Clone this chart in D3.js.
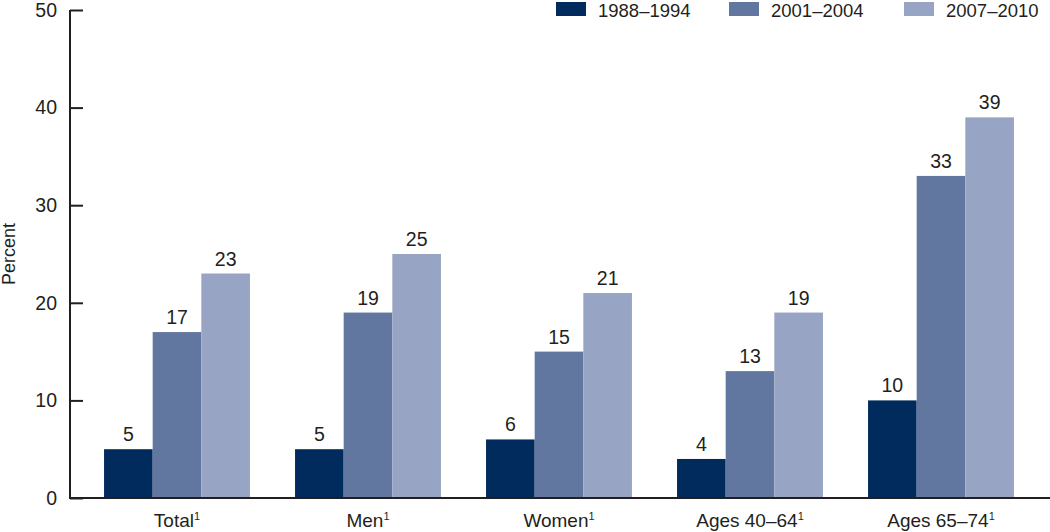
<!DOCTYPE html>
<html>
<head>
<meta charset="utf-8">
<script src="https://cdn.jsdelivr.net/npm/d3@7"></script>
<style>
  body { margin: 0; background: #fff; }
  svg text { font-family: "Liberation Sans", Arial, sans-serif; fill: #231f20; }
</style>
</head>
<body>
<svg id="chart" width="1050" height="532"></svg>
<script>
// chart data
const categories = ["Total", "Men", "Women", "Ages 40\u201364", "Ages 65\u201374"];
const periods = ["1988\u20131994", "2001\u20132004", "2007\u20132010"];
const values1988 = [5, 5, 6, 4, 10];
const values2001 = [17, 19, 15, 13, 33];
const values2007 = [23, 25, 21, 19, 39];
const yTicks = [0, 10, 20, 30, 40, 50];

const colors = ["#002b5c", "#62779f", "#97a4c3"];
const series = [values1988, values2001, values2007];

const svg = d3.select("#chart");
const plotLeft = 70, plotRight = 1050, plotTop = 10, plotBottom = 498;

const x = d3.scaleBand()
  .domain(categories)
  .range([81.5, 1036.5])
  .paddingInner(0.236)
  .paddingOuter(0.118);

const xInner = d3.scaleBand()
  .domain(periods)
  .range([0, x.bandwidth()]);

const y = d3.scaleLinear()
  .domain([0, 50])
  .range([plotBottom, plotTop]);

// bars
categories.forEach((cat, i) => {
  const g = svg.append("g").attr("transform", "translate(" + x(cat) + ",0)");
  periods.forEach((p, j) => {
    const v = series[j][i];
    g.append("rect")
      .attr("x", xInner(p))
      .attr("y", y(v))
      .attr("width", xInner.bandwidth())
      .attr("height", plotBottom - y(v))
      .attr("fill", colors[j]);
    g.append("text")
      .attr("x", xInner(p) + xInner.bandwidth() / 2)
      .attr("y", y(v) - 8)
      .attr("text-anchor", "middle")
      .style("font-size", "19.5px")
      .text(v);
  });
});

// y axis
const yAxis = svg.append("g")
  .attr("transform", "translate(" + plotLeft + ",0)")
  .call(d3.axisRight(y).tickValues(yTicks).tickSize(13).tickFormat(d3.format("d")));
yAxis.select(".domain").attr("d", "M0," + plotTop + "V" + plotBottom).attr("stroke", "#231f20").attr("stroke-width", 2);
yAxis.selectAll(".tick line").attr("stroke", "#231f20").attr("stroke-width", 2);
yAxis.selectAll(".tick text")
  .attr("x", -13)
  .attr("text-anchor", "end")
  .style("font-size", "19.5px")
  .style("font-family", "'Liberation Sans', Arial, sans-serif")
  .attr("fill", "#231f20");

// x baseline
svg.append("line")
  .attr("x1", plotLeft - 1).attr("x2", plotRight)
  .attr("y1", plotBottom).attr("y2", plotBottom)
  .attr("stroke", "#231f20").attr("stroke-width", 2);

// category labels with superscript
categories.forEach(cat => {
  const t = svg.append("text")
    .attr("x", x(cat) + x.bandwidth() / 2)
    .attr("y", 527)
    .attr("text-anchor", "middle")
    .style("font-size", "19px");
  t.append("tspan").text(cat);
  t.append("tspan").attr("dy", -7).style("font-size", "11px").text("1");
});

// y label
svg.append("text")
  .attr("transform", "translate(15,254) rotate(-90)")
  .attr("text-anchor", "middle")
  .style("font-size", "18px")
  .text("Percent");

// legend
const legendX = [556, 729, 904];
periods.forEach((p, j) => {
  svg.append("rect")
    .attr("x", legendX[j]).attr("y", 2)
    .attr("width", 30).attr("height", 14)
    .attr("fill", colors[j]);
  svg.append("text")
    .attr("x", legendX[j] + 42).attr("y", 17)
    .style("font-size", "18.5px")
    .text(p);
});
</script>
</body>
</html>
